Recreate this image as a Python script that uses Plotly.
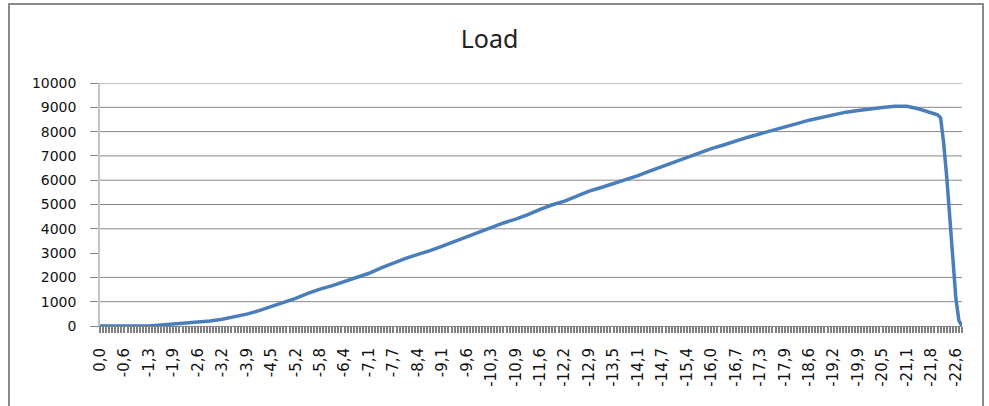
import plotly.graph_objects as go

# ---- data ----
tick_labels = ["0,0", "-0,6", "-1,3", "-1,9", "-2,6", "-3,2", "-3,9", "-4,5", "-5,2",
               "-5,8", "-6,4", "-7,1", "-7,7", "-8,4", "-9,1", "-9,6", "-10,3", "-10,9",
               "-11,6", "-12,2", "-12,9", "-13,5", "-14,1", "-14,7", "-15,4", "-16,0",
               "-16,7", "-17,3", "-17,9", "-18,6", "-19,2", "-19,9", "-20,5", "-21,1",
               "-21,8", "-22,6"]
categories_per_label = 8
n_categories = 283

sample_index = [0, 8, 16, 20, 24, 28, 32, 36, 40, 44, 48, 52, 56, 60, 64, 68, 72, 76, 80,
                84, 88, 92, 96, 100, 104, 108, 112, 116, 120, 124, 128, 132, 136, 140,
                144, 148, 152, 156, 160, 164, 168, 172, 176, 180, 184, 188, 192, 196,
                200, 204, 208, 212, 216, 220, 224, 228, 232, 236, 240, 244, 248, 252,
                256, 260, 264, 268, 272, 274, 275, 276, 277, 278, 279, 280, 281, 282]
load = [0, 0, 5, 40, 75, 110, 155, 210, 280, 370, 490, 630, 790, 950, 1140, 1340, 1520,
        1660, 1820, 1990, 2170, 2390, 2590, 2780, 2950, 3100, 3290, 3480, 3690, 3870,
        4060, 4240, 4400, 4580, 4800, 4990, 5140, 5330, 5550, 5700, 5860, 6000, 6190,
        6380, 6570, 6740, 6930, 7120, 7300, 7450, 7620, 7770, 7910, 8060, 8190, 8330,
        8470, 8580, 8700, 8800, 8870, 8940, 8990, 9040, 9040, 8930, 8780, 8690, 8570,
        7530, 6140, 4380, 2500, 1130, 220, 0]

y_ticks = list(range(0, 10001, 1000))
gridlines_drawn = [v for v in y_ticks if v not in (0, 3000)]

# ---- figure ----
W, H = 989, 406
ml, mr, mt, mb = 100, 27, 83, 80
pw, ph = W - ml - mr, H - mt - mb

fig = go.Figure()
fig.add_trace(go.Scatter(x=sample_index, y=load, mode="lines",
                         line=dict(color="#4a7ebb", width=3.5), hoverinfo="skip"))

for v in gridlines_drawn:
    fig.add_shape(type="line", xref="paper", yref="y", x0=0, x1=1, y0=v, y1=v,
                  line=dict(color="#868686", width=1), layer="below")

# outer chart frame
fig.add_shape(type="rect", xref="paper", yref="paper",
              x0=(9 - ml) / pw, x1=(983 - ml) / pw,
              y0=(H - mb - 420) / ph, y1=(H - mb - 4) / ph,
              line=dict(color="#8a8a8a", width=2), fillcolor="rgba(0,0,0,0)")

xtickfont = dict(family="DejaVu Sans", size=15, color="#111111")
ytickfont = dict(family="DejaVu Sans", size=14, color="#111111")

fig.update_layout(
    width=W, height=H,
    margin=dict(l=ml, r=mr, t=mt, b=mb),
    paper_bgcolor="white", plot_bgcolor="white",
    showlegend=False,
    title=dict(text="Load", x=0.495, xanchor="center", y=1 - 39 / H, yanchor="middle",
               font=dict(family="Noto Sans", size=25, color="#222222")),
    xaxis=dict(range=[0, n_categories - 1],
               tickmode="array",
               tickvals=[k * categories_per_label for k in range(len(tick_labels))],
               ticktext=tick_labels, tickangle=-90, tickfont=xtickfont,
               ticks="outside", ticklen=6, tickwidth=1.5, tickcolor="#808080",
               ticklabelstandoff=9,
               minor=dict(dtick=1, tick0=0, ticks="outside", ticklen=6, tickwidth=1.5,
                          tickcolor="#808080", showgrid=False),
               showline=True, linecolor="#868686", linewidth=1,
               showgrid=False, zeroline=False, fixedrange=True),
    yaxis=dict(range=[0, 10000], tickmode="array", tickvals=y_ticks,
               ticktext=[str(v) for v in y_ticks], tickfont=ytickfont,
               ticks="outside", ticklen=8, tickwidth=1, tickcolor="#868686",
               ticklabelstandoff=11,
               showline=True, linecolor="#c4c4c4", linewidth=1.5,
               showgrid=False, zeroline=False, fixedrange=True),
)

fig.write_html("out.html", config={"displayModeBar": False},
               post_script="document.body.style.margin='0px';document.body.style.overflow='hidden';")
